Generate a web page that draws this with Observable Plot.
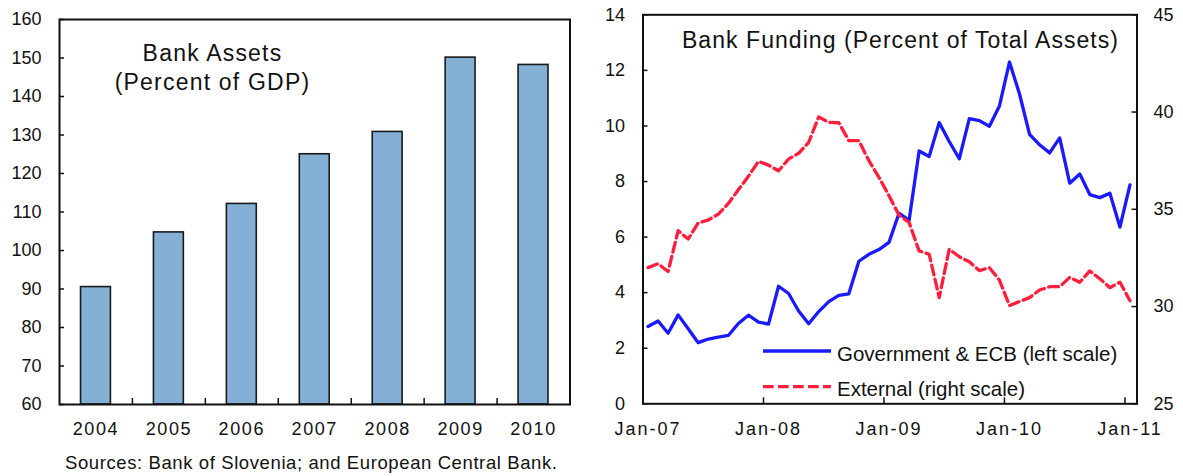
<!DOCTYPE html>
<html>
<head>
<meta charset="utf-8">
<script src="https://cdn.jsdelivr.net/npm/d3@7"></script>
<script src="https://cdn.jsdelivr.net/npm/@observablehq/plot@0.6"></script>
<style>
  html, body { margin: 0; padding: 0; background: #fff; }
  #wrap { position: relative; width: 1183px; height: 476px; overflow: hidden; font-family: "Liberation Sans", Arial, sans-serif; color: #111; }
  #left { position: absolute; left: 0; top: 0; }
  #right { position: absolute; left: 600px; top: 0; }
  #legend { position: absolute; left: 0; top: 0; pointer-events: none; }
  .caption { position: absolute; left: 65px; top: 453px; font-size: 18.5px; line-height: 20px; letter-spacing: 0.6px; white-space: nowrap; }
</style>
</head>
<body>
<div id="wrap">
  <div id="left"></div>
  <div id="right"></div>
  <svg id="legend" width="1183" height="476"></svg>
  <div class="caption">Sources: Bank of Slovenia; and European Central Bank.</div>
</div>
<script>
// ---------- Data: left panel ----------
const years = ["2004", "2005", "2006", "2007", "2008", "2009", "2010"];
const bankAssets = [90.5, 104.7, 112.1, 125.0, 130.8, 150.1, 148.2];
const leftYTicks = [60, 70, 80, 90, 100, 110, 120, 130, 140, 150, 160];

// ---------- Data: right panel (monthly, Jan-07 .. Jan-11) ----------
const govECB = [2.78, 2.98, 2.54, 3.20, 2.70, 2.20, 2.33, 2.40, 2.46, 2.89, 3.19, 2.94,
                2.87, 4.23, 3.97, 3.34, 2.88, 3.32, 3.68, 3.90, 3.96, 5.13, 5.38, 5.55,
                5.81, 6.86, 6.60, 9.10, 8.90, 10.12, 9.44, 8.82, 10.26, 10.19, 9.99, 10.72,
                12.30, 11.15, 9.70, 9.32, 9.03, 9.57, 7.94, 8.27, 7.53, 7.42, 7.58, 6.36,
                7.88];
const external = [32.0, 32.2, 31.8, 33.9, 33.47, 34.3, 34.45, 34.75, 35.3, 36.0, 36.7, 37.46,
                  37.27, 36.98, 37.58, 37.88, 38.44, 39.75, 39.47, 39.45, 38.53, 38.53, 37.5, 36.64,
                  35.7, 34.7, 34.32, 32.86, 32.69, 30.46, 32.95, 32.56, 32.3, 31.85, 32.0, 31.36,
                  30.05, 30.26, 30.46, 30.85, 31.02, 31.02, 31.5, 31.25, 31.83, 31.43, 30.97, 31.25,
                  30.3];
const monthLabels = d3.utcMonth.range(new Date(Date.UTC(2007, 0, 1)), new Date(Date.UTC(2011, 1, 1)))
  .map(d3.utcFormat("%b-%y"));
const xTickLabels = ["Jan-07", "Jan-08", "Jan-09", "Jan-10", "Jan-11"];
const leftTicksR = [0, 2, 4, 6, 8, 10, 12, 14];
const rightTicksR = [25, 30, 35, 40, 45];
const leftDomainR = [0, 14];
const rightDomainR = [25, 45];

const FONT = "Liberation Sans, Arial, sans-serif";
const INK = "#111";

// ---------- Left chart ----------
const idx = years.map((_, i) => i);
const boundaries = idx.slice(1).map(i => i - 0.5);

const left = Plot.plot({
  width: 600, height: 445,
  marginLeft: 59, marginRight: 30.5, marginTop: 19, marginBottom: 41,
  style: { fontFamily: FONT, fontSize: "18px", color: INK, background: "transparent", overflow: "visible" },
  x: { domain: [-0.5, years.length - 0.5], axis: null },
  y: { domain: [60, 160], axis: null },
  marks: [
    Plot.rectY(bankAssets, {
      x1: (d, i) => i - 0.205, x2: (d, i) => i + 0.205,
      y1: 60, y2: d => d,
      fill: "#84B0D6", stroke: "#1a1a1a", strokeWidth: 1.6
    }),
    Plot.axisY({ anchor: "left", ticks: leftYTicks, tickSize: -5, tickPadding: 23, stroke: INK, strokeWidth: 1.5 }),
    Plot.axisX({ anchor: "bottom", ticks: boundaries, tickSize: -6, tickFormat: () => "", stroke: INK, strokeWidth: 1.5 }),
    Plot.axisX({ anchor: "bottom", ticks: idx, tickSize: 0, tickPadding: 18, tickFormat: i => years[i] }),
    Plot.frame({ stroke: INK, strokeWidth: 2 }),
    Plot.text(["Bank Assets\n(Percent of GDP)"], {
      frameAnchor: "top-left", dx: 153, dy: 47,
      textAnchor: "middle", lineAnchor: "middle", lineHeight: 1.22,
      fontSize: 23, fill: INK
    })
  ]
});
document.getElementById("left").appendChild(left);

// ---------- Right chart (dual axis) ----------
const toLeft = v => (v - rightDomainR[0]) * (leftDomainR[1] - leftDomainR[0]) / (rightDomainR[1] - rightDomainR[0]) + leftDomainR[0];
const toRight = y => (y - leftDomainR[0]) * (rightDomainR[1] - rightDomainR[0]) / (leftDomainR[1] - leftDomainR[0]) + rightDomainR[0];
const labelIdx = xTickLabels.map(l => monthLabels.indexOf(l));
const yearBounds = labelIdx.slice(1).map(i => i - 0.5);

const right = Plot.plot({
  width: 583, height: 445,
  marginLeft: 42.5, marginRight: 46.5, marginTop: 14.3, marginBottom: 41.7,
  style: { fontFamily: FONT, fontSize: "18px", color: INK, background: "transparent", overflow: "visible" },
  x: { domain: [-0.5, monthLabels.length - 0.3], axis: null },
  y: { domain: leftDomainR, axis: null },
  marks: [
    Plot.line(govECB, { x: (d, i) => i, y: d => d, stroke: "#1a1aff", strokeWidth: 3.3, strokeLinejoin: "round" }),
    Plot.line(external, { x: (d, i) => i, y: d => toLeft(d), stroke: "#ff1f3d", strokeWidth: 3.3, strokeDasharray: "10,4.5" }),
    Plot.axisY({ anchor: "left", ticks: leftTicksR, tickSize: -5, tickPadding: 23, stroke: INK, strokeWidth: 1.5 }),
    Plot.axisY({ anchor: "right", ticks: rightTicksR.map(toLeft), tickFormat: y => String(Math.round(toRight(y))), tickSize: -6, tickPadding: 22.5, stroke: INK, strokeWidth: 1.5 }),
    Plot.axisX({ anchor: "bottom", ticks: yearBounds, tickSize: -6, tickFormat: () => "", stroke: INK, strokeWidth: 1.5 }),
    Plot.axisX({ anchor: "bottom", ticks: labelIdx, tickSize: 0, tickPadding: 18, tickFormat: i => monthLabels[i] }),
    Plot.frame({ stroke: INK, strokeWidth: 2 }),
    Plot.text(["Bank Funding (Percent of Total Assets)"], {
      frameAnchor: "top-left", dx: 257.5, dy: 25.7,
      textAnchor: "middle", lineAnchor: "middle",
      fontSize: 23, fill: INK
    })
  ]
});
document.getElementById("right").appendChild(right);

// letter spacing tweaks (the reference renders text a little wider)
d3.select(left).selectAll('g[aria-label="text"] text').attr("letter-spacing", 1.2);
d3.select(right).selectAll('g[aria-label="text"] text').attr("letter-spacing", 1.05);
d3.select(left).selectAll('g[aria-label="x-axis tick label"] text').attr("letter-spacing", 1.6);
d3.select(right).selectAll('g[aria-label="x-axis tick label"] text').attr("letter-spacing", 2);

// ---------- Legend (inside right panel) ----------
const legendItems = [
  { label: "Government & ECB (left scale)", color: "#1a1aff", dash: null, y: 351 },
  { label: "External (right scale)", color: "#ff1f3d", dash: "10.7,4.3", y: 386.7 }
];
const lg = d3.select("#legend");
legendItems.forEach(it => {
  lg.append("line").attr("x1", 763).attr("x2", 831).attr("y1", it.y).attr("y2", it.y)
    .attr("stroke", it.color).attr("stroke-width", 3.3).attr("stroke-dasharray", it.dash);
  lg.append("text").attr("x", 837).attr("y", it.y + 3).attr("dy", "0.32em")
    .attr("font-family", FONT).attr("font-size", 20.5).attr("fill", INK).text(it.label);
});
</script>
</body>
</html>
